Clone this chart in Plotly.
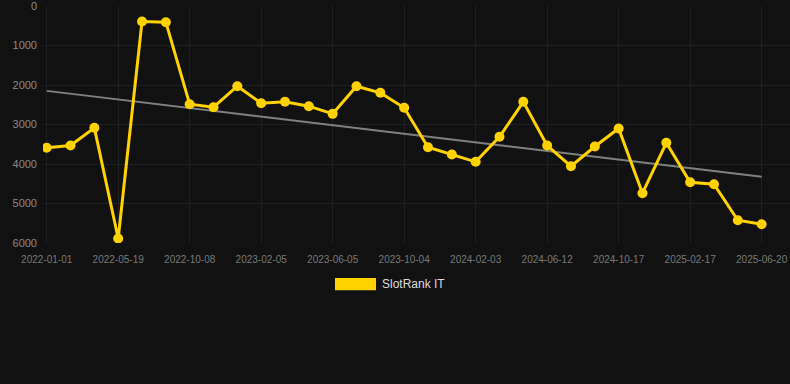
import numpy as np
import plotly.graph_objects as go

dates = [
    "2022-01-01", "2022-02-16", "2022-04-03", "2022-05-19", "2022-07-05", "2022-08-21",
    "2022-10-08", "2022-11-17", "2022-12-27", "2023-02-05", "2023-03-17", "2023-04-26",
    "2023-06-05", "2023-07-15", "2023-08-25", "2023-10-04", "2023-11-14", "2023-12-24",
    "2024-02-03", "2024-03-16", "2024-04-28", "2024-06-12", "2024-07-24", "2024-09-04",
    "2024-10-17", "2024-11-27", "2025-01-07", "2025-02-17", "2025-03-30", "2025-05-10",
    "2025-06-20",
]
rank = [
    3590, 3532, 3084, 5886, 392, 410, 2486, 2562, 2030, 2460, 2425, 2536, 2730, 2030,
    2198, 2578, 3574, 3760, 3945, 3312, 2425, 3532, 4056, 3557, 3101, 4739, 3464, 4461,
    4511, 5423, 5524,
]
tick_dates = dates[::3]
y_ticks = [0, 1000, 2000, 3000, 4000, 5000, 6000]
series_name = "SlotRank IT"

idx = np.arange(len(rank))
slope, intercept = np.polyfit(idx, rank, 1)
trend = slope * idx + intercept

GOLD = "#FFD200"
BG = "#111111"

fig = go.Figure()
fig.add_trace(go.Scatter(
    x=dates, y=trend, mode="lines",
    line=dict(color="#808080", width=2), showlegend=False, hoverinfo="skip",
))
fig.add_trace(go.Scatter(
    x=dates, y=rank, mode="lines+markers", name=series_name,
    line=dict(color=GOLD, width=3),
    marker=dict(color=GOLD, size=10),
    showlegend=False,
))

fig.update_layout(
    width=790, height=384,
    paper_bgcolor=BG, plot_bgcolor=BG,
    margin=dict(l=43, r=0, t=6, b=141),
    font=dict(family="Liberation Sans, Arial, sans-serif", color="#888888"),
    xaxis=dict(
        type="category", categoryorder="array", categoryarray=dates,
        range=[-0.155, 31.19],
        tickmode="array", tickvals=tick_dates, ticktext=tick_dates,
        showgrid=True, gridcolor="#1f1f1f", gridwidth=1,
        zeroline=False, showline=False, ticks="",
        tickfont=dict(size=10, color="#7a7a7a"), ticklabelstandoff=9,
        ticklabeloverflow="allow",
    ),
    yaxis=dict(
        range=[6000, 0], tickmode="array", tickvals=y_ticks,
        showgrid=True, gridcolor="#1f1f1f", gridwidth=1,
        zeroline=False, showline=False, ticks="",
        tickfont=dict(size=11, color="#8a8a8a"), ticklabelstandoff=5,
        ticklabeloverflow="allow",
    ),
    shapes=[dict(
        type="rect", xref="paper", yref="paper",
        x0=0.3909, x1=0.4458, y0=-0.1996, y1=-0.1477,
        fillcolor=GOLD, line=dict(width=0),
    )],
    annotations=[dict(
        xref="paper", yref="paper", x=0.4512, y=-0.1743,
        xanchor="left", yanchor="middle", showarrow=False,
        text=series_name, font=dict(size=12, color="#dddddd"),
    )],
)

fig.write_html("out.html", config={"displayModeBar": False},
               post_script="document.body.style.margin='0';")
